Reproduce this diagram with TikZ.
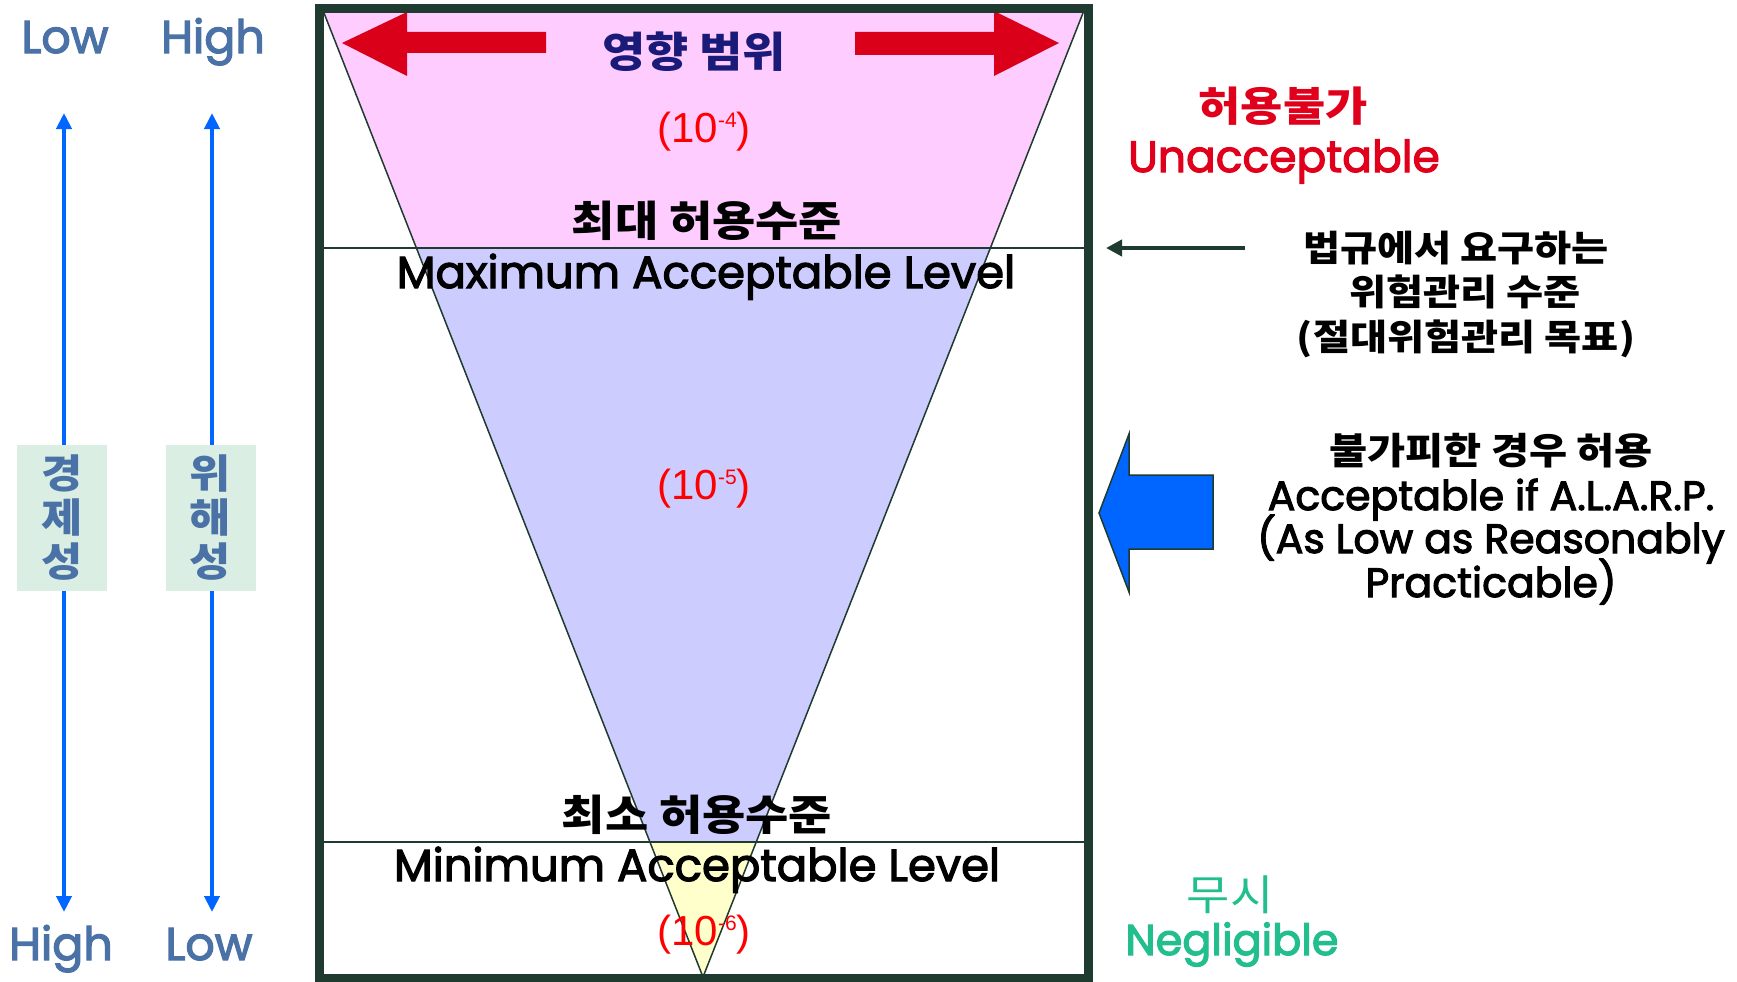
\documentclass[tikz,border=0pt]{standalone}
\usepackage{fontspec}
\usetikzlibrary{arrows.meta}
\newfontfamily\kr{Noto Sans CJK KR}[FakeStretch=1.12]
\newfontfamily\lat{Poppins}[FakeBold=2.6]
\newfontfamily\nums{Liberation Sans}
\definecolor{framec}{HTML}{1F3A2F}
\definecolor{pinkF}{HTML}{FFCCFF}
\definecolor{lavF}{HTML}{CCCCFF}
\definecolor{yelF}{HTML}{FFFFCC}
\definecolor{redA}{HTML}{DA0019}
\definecolor{navyT}{HTML}{1A1A78}
\definecolor{redT}{HTML}{E0001B}
\definecolor{greenT}{HTML}{22BE8E}
\definecolor{steelT}{HTML}{4A72A6}
\definecolor{blueA}{HTML}{0066FF}
\definecolor{mint}{HTML}{DAEEE3}
\newcommand{\fs}[1]{\fontsize{#1}{#1}\selectfont}
\newcommand{\pw}[1]{(10\raisebox{15pt}{\fs{21}-#1})}
\begin{document}
\begin{tikzpicture}[x=1pt,y=-1pt,
  krt/.style={inner sep=0pt, font=\kr\bfseries\fs{42}},
  latt/.style={inner sep=0pt, anchor=base, font=\lat\fs{45}},
  numt/.style={inner sep=0pt, text=red, font=\nums\fs{42}},
  axarrow/.style={blueA, line width=4pt, {Triangle[length=16pt,width=15pt]}-{Triangle[length=16pt,width=15pt]}},
  vbox/.style={fill=mint, minimum width=90pt, minimum height=146pt, inner sep=0pt, text=steelT, align=center, font=\kr\bfseries\fs{40}},
  sidelab/.style={inner sep=0pt, anchor=base, text=steelT, font=\lat\fs{46}}]
\useasboundingbox (0,0) rectangle (1737,982);
% triangle
\coordinate (TL) at (324,13);
\coordinate (TR) at (1083,13);
\coordinate (AP) at (703,977);
\begin{scope}\clip (0,0) rectangle (1737,248); \fill[pinkF] (TL)--(TR)--(AP)--cycle; \end{scope}
\begin{scope}\clip (0,248) rectangle (1737,842); \fill[lavF] (TL)--(TR)--(AP)--cycle; \end{scope}
\begin{scope}\clip (0,842) rectangle (1737,982); \fill[yelF] (TL)--(TR)--(AP)--cycle; \end{scope}
\draw[framec, line width=1.5pt] (TL)--(AP)--(TR);
\coordinate (maxL) at (324,248); \coordinate (maxR) at (1084,248);
\coordinate (minL) at (324,842); \coordinate (minR) at (1084,842);
\draw[framec, line width=2pt] (maxL)--(maxR);
\draw[framec, line width=2pt] (minL)--(minR);
% red arrows
\fill[redA] (342,43) -- (407,12) -- (407,32) -- (546,32) -- (546,53) -- (407,53) -- (407,76) -- cycle;
\fill[redA] (1059,43) -- (994,11) -- (994,32) -- (855,32) -- (855,55) -- (994,55) -- (994,76) -- cycle;
% texts in triangle
\node[krt, text=navyT] (scope) at (694,52) {영향 범위};
\node[numt] (p4) at (704,132) {\pw{4}};
\node[krt] (maxk) at (707,221) {최대 허용수준};
\node[latt] (maxe) at (706,288) {Maximum Acceptable Level};
\node[numt] (p5) at (704,489) {\pw{5}};
\node[krt] (mink) at (697,815) {최소 허용수준};
\node[latt] (mine) at (697,881) {Minimum Acceptable Level};
\node[numt] (p6) at (704,935) {\pw{6}};
% frame
\draw[framec, line width=9pt] (319.5,8.5) rectangle (1088,978);
% left axes
\coordinate (a1t) at (64,113); \coordinate (a1b) at (64,912);
\coordinate (a2t) at (212,113); \coordinate (a2b) at (212,912);
\draw[axarrow] (a1t) -- (a1b);
\draw[axarrow] (a2t) -- (a2b);
\node[vbox] (econ) at (62,518) {경\\[4pt]제\\[4pt]성};
\node[vbox] (harm) at (210.5,518) {위\\[4pt]해\\[4pt]성};
\node[sidelab] (l1) at (65,53) {Low};
\node[sidelab] (h1) at (213,53) {High};
\node[sidelab] (h2) at (61,960) {High};
\node[sidelab] (l2) at (209,960) {Low};
% right side
\node[krt, text=redT, font=\kr\bfseries\fs{41}] (unk) at (1283,106) {허용불가};
\node[latt, text=redT, font=\lat\fs{44}] (une) at (1284,172) {Unacceptable};
\node[krt, font=\kr\bfseries\fs{36}] (r1) at (1456,248) {법규에서 요구하는};
\node[krt, font=\kr\bfseries\fs{36}] (r2) at (1465,292) {위험관리 수준};
\node[krt, font=\kr\bfseries\fs{36}] (r3) at (1466,339) {(절대위험관리 목표)};
\coordinate (legTail) at (1245,248);
\coordinate (legTip) at (1106,248);
\draw[framec, line width=4pt, -{Triangle[length=16pt,width=16pt]}] (legTail) -- (legTip);
\fill[blueA, draw=framec, line width=1.5pt] (1099,513) -- (1129,434) -- (1129,475) -- (1213,475) -- (1213,549) -- (1129,549) -- (1129,592) -- cycle;
\node[krt, font=\kr\bfseries\fs{37}] (a1) at (1491,451) {불가피한 경우 허용};
\node[latt, font=\lat\fs{41}] (a2) at (1491,510) {Acceptable if A.L.A.R.P.};
\node[latt, font=\lat\fs{41}] (a3) at (1491,553) {(As Low as Reasonably};
\node[latt, font=\lat\fs{41}] (a4) at (1491,597) {Practicable)};
\node[krt, text=greenT, font=\kr\fs{42}] (ngk) at (1230,895) {무시};
\node[latt, text=greenT, font=\lat\fs{43}] (nge) at (1232,955) {Negligible};
\end{tikzpicture}
\end{document}
